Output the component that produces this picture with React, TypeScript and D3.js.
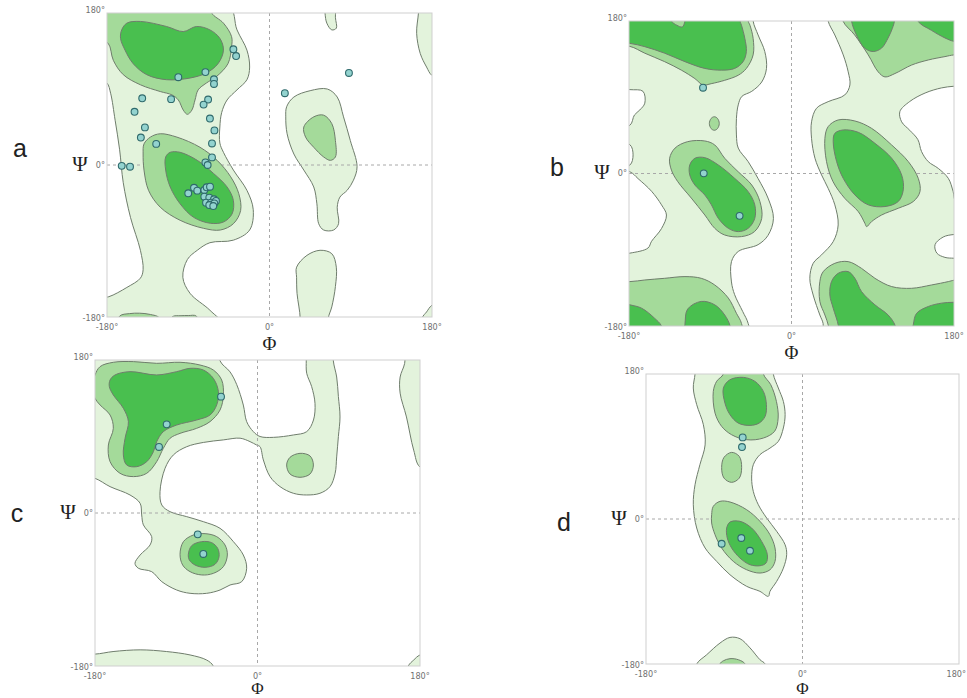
import React from 'react';
import * as d3 from 'd3';

type Pt = [number, number];
type Level = 'L' | 'W' | 'M' | 'D';

// ---------- axis ticks ----------
const tickValues: number[] = [-180, 0, 180];
const tickLabels: string[] = ['-180°', '0°', '180°'];

// ---------- Panel a ----------
const aLight1: Pt[] = [[-200,200],[-46,190],[-36,160],[-25,136],[-22,116],[-25,101],[-36,89],[-47,77],[-53,62],[-55,45],[-55,26],[-51,15],[-40,-6],[-25,-30],[-18,-53],[-22,-77],[-40,-89],[-66,-92],[-80,-101],[-91,-112],[-96,-133],[-88,-152],[-66,-172],[-52,-190],[-200,-200],[-190,-158],[-178,-156],[-158,-145],[-143,-134],[-140,-124],[-143,-101],[-154,-62],[-162,-21],[-166,18],[-171,53],[-176,85],[-180,97],[-190,102]];
const aMed1: Pt[] = [[-200,200],[-64,190],[-64,180],[-51,168],[-42,152],[-42,140],[-46,120],[-58.5,105],[-70,97],[-79,89],[-82.5,77],[-86,65],[-91,60],[-95.5,65],[-101,77],[-108,83],[-121,87],[-143,95],[-162,107],[-173,124],[-178.6,144],[-190,150]];
const aDark1: Pt[] = [[-163.7,160],[-158,168],[-143,170],[-114,164],[-95.5,158],[-81,164],[-66,160],[-55,150],[-51,136],[-57,120],[-70,109],[-88,103],[-114,101],[-136,107],[-151,120],[-160,136],[-165,150]];
const aMed2: Pt[] = [[-139,25],[-132,33],[-121,37],[-102.5,33],[-77,21],[-58,5.5],[-43,-14],[-34,-34],[-32,-54],[-40,-69.5],[-54.5,-77],[-73,-75],[-99,-65.5],[-121,-50],[-134,-30],[-139,-6],[-140,13]];
const aDark2: Pt[] = [[-115,9.5],[-110,15],[-99,15],[-80,5.5],[-62,-10],[-47,-26],[-40,-42],[-41.5,-58],[-51,-67.5],[-65.5,-69],[-84,-62],[-99,-46],[-110,-26],[-115,-6]];
const aMed3: Pt[] = [[-170,-200],[-166,-179],[-155,-176],[-144,-175.5],[-132,-177],[-122,-181],[-118,-200]];
const aMed4: Pt[] = [[-112,-200],[-108,-180],[-98,-178.5],[-90,-178.3],[-81,-179],[-76,-200]];
const aLight2: Pt[] = [[19,69],[27,80.5],[45,88],[64,90],[75,80.5],[82,57],[89.5,29],[97,-2],[93,-18],[86,-30],[78,-38],[75,-50],[76.5,-69.5],[71,-77],[60,-77],[54.5,-69.5],[52.5,-46],[49,-26],[38,-6],[27,13],[19.5,37],[18,57]];
const aMed5: Pt[] = [[38,45],[49,57],[60,59],[69,49],[73,29],[73,9.5],[67.5,5.5],[60,9.5],[49,21],[40,33]];
const aLight3: Pt[] = [[30,-121],[41.5,-107],[56,-101],[69,-105],[74,-121],[73,-144],[69,-168],[65,-182],[66,-200],[32,-200],[34,-182],[30.5,-152],[30,-133]];
const aLight4: Pt[] = [[61,200],[61.5,180],[63.5,168],[69,160],[74,162],[73,175],[73,200]];
const aLight5: Pt[] = [[166,200],[165,180],[163,156],[167,132],[174,116],[180,106],[200,98],[200,200]];
const aLight6: Pt[] = [[165,-200],[169,-181],[174,-174],[180,-166],[200,-158],[200,-200]];
const aResidues: Pt[] = [[-40,137],[-37,129],[-101,104],[-71,110],[-61.5,101.5],[-61.5,96],[88,109],[17,85],[-141,79],[-109,78],[-68,77.5],[-73,71.5],[-149.5,63],[-66,55],[-61,41],[-138,44.5],[-142.5,32.5],[-125.5,25],[-63.7,25.5],[-163.7,-1],[-154.5,-2],[-71,3],[-63.7,9],[-68.5,0],[-90,-33.5],[-83.6,-27],[-80,-30.4],[-72.2,-29.6],[-69.6,-26.4],[-65.9,-25.7],[-72.2,-37.5],[-66.7,-38.7],[-61.5,-40.6],[-70.3,-44.6],[-64.8,-44.6],[-59.3,-42.6],[-63.7,-46.6],[-61.1,-45.4],[-66.7,-47.4],[-62.3,-48.6]];

// ---------- Panel b ----------
const bLight1: Pt[] = [[-200,200],[-42,200],[-42.5,180],[-37,163.5],[-29.6,144],[-27.7,124],[-33,108],[-44,97],[-55,91],[-59,81],[-61,65],[-61,45.5],[-59,30],[-48,14],[-37,-6],[-26,-29],[-20,-53],[-26,-73],[-37,-84],[-59,-92],[-66.5,-104],[-66.5,-128],[-63,-143],[-54,-163],[-48,-177],[-46,-200],[-200,-200]];
const bWhite1: Pt[] = [[-200,101],[-179,99],[-164.5,97],[-162.5,83],[-168,75],[-174,69],[-179,57],[-200,55]];
const bWhite2: Pt[] = [[-200,37],[-179,34],[-175.5,22],[-179,10],[-200,7]];
const bWhite3: Pt[] = [[-200,4],[-179,2],[-170,-6],[-155,-21],[-144,-37],[-138.5,-49],[-144,-65],[-155,-80],[-159,-88],[-179,-94],[-200,-96]];
const bMed1: Pt[] = [[-200,150],[-179,150],[-162.5,142],[-140.5,132],[-122,122],[-107,112],[-98,104.5],[-89,106],[-74,110],[-59,116],[-50,124],[-42.5,140],[-42.5,159.5],[-46,175],[-48,180],[-48,200],[-200,200]];
const bDark1: Pt[] = [[-200,155],[-179,153.6],[-162.5,149.7],[-140.5,142],[-118,132],[-96,124],[-77.6,122],[-63,124],[-53.6,132],[-50,144],[-51.7,159.5],[-55.4,175],[-57,180],[-57,200],[-200,200]];
const bMedNotch: Pt[] = [[-136,200],[-133,180],[-127,175],[-121,173],[-118,180],[-117,200]];
const bMed2: Pt[] = [[-91,59],[-89,65],[-85.5,67],[-82,65],[-80,59],[-82,53],[-85.5,51],[-89,53]];
const bMed3: Pt[] = [[-135,18],[-129,30],[-115,37.6],[-96,38.4],[-85,33.7],[-74,18],[-59,2],[-44,-13.6],[-35,-33],[-33,-53],[-41,-68.6],[-55.4,-74.5],[-74,-72.6],[-85,-64.7],[-96,-49],[-111,-29],[-126,-9.6],[-133,4]];
const bDark3: Pt[] = [[-112.7,10],[-107,18],[-96,18.7],[-81,10],[-63,-5.7],[-48,-21.4],[-40.7,-37],[-40.7,-53],[-48,-64.7],[-59,-68.6],[-70,-64.7],[-81,-53],[-88.7,-37],[-96,-25.4],[-107,-13.6],[-112.7,-1.7]];
const bMed4: Pt[] = [[-200,-127],[-179,-127.6],[-162.5,-125.7],[-140.5,-123.7],[-118,-121.7],[-100,-123.7],[-85,-131.6],[-70,-147],[-61,-165],[-55.4,-177],[-54,-200],[-200,-200]];
const bDark4: Pt[] = [[-200,-150],[-179,-155],[-166,-159],[-151.5,-171],[-144,-180],[-140,-200],[-200,-200]];
const bDark5: Pt[] = [[-119,-200],[-118,-178],[-115,-160],[-100,-151],[-85,-155],[-74,-167],[-68,-180],[-66,-200]];
const bLight2: Pt[] = [[40,200],[40.6,180],[48,163.5],[57.3,140],[62.8,120],[64.7,104.5],[59,92.7],[40.6,84.8],[27.7,77],[22.2,61],[22.2,41.5],[26,18],[33.3,-1.7],[40.6,-17.5],[48,-37],[51.7,-60.7],[46.2,-80.4],[33.3,-96],[24,-106],[20.3,-123.7],[24,-143.4],[31.4,-167],[35,-177],[36,-200],[200,-200],[200,200]];
const bWhite4: Pt[] = [[200,104],[180,103],[166,101],[148,95],[131,85],[120,73],[122,61],[131,51],[140,40],[144,26],[151.5,14],[162.6,6],[173.7,-5.7],[179,-21],[182,-33],[200,-36]];
const bWhite5: Pt[] = [[200,-72],[180,-72],[168,-75],[159,-84],[161,-94],[170,-99],[180,-100],[200,-100]];
const bMed5: Pt[] = [[55,200],[57,180],[70,163.5],[85,140],[96,120],[103.5,114],[114.6,118],[133,128],[151.5,134],[170,138],[180,140],[200,141],[200,200]];
const bDark6: Pt[] = [[66,200],[66.5,180],[72,163.5],[81,148],[90.5,144],[99.8,148],[107,160],[111.6,171],[114,180],[114,200]];
const bDark7: Pt[] = [[138,200],[140,180],[155,169],[170,160],[180,156],[200,155],[200,200]];
const bMed6: Pt[] = [[37,41.5],[40.6,55.3],[51.7,63.2],[70.2,62],[88.7,53.3],[110.9,33.7],[129.4,14],[140.4,-5.7],[142.3,-21.4],[135,-33],[118.3,-41],[99.8,-49],[88.7,-56.8],[83.2,-62.7],[81.3,-58.8],[74,-45],[59,-29.3],[46,-9.6],[38.8,14]];
const bDark8: Pt[] = [[46.2,37.6],[48,47.4],[57.3,51.4],[74,48.6],[92.4,35.6],[111,18],[122,-1.7],[123.8,-19.4],[118.3,-33],[103.5,-39],[85,-37],[70.2,-25.3],[57.3,-5.7],[50,14]];
const bMed7: Pt[] = [[200,-125],[180,-126],[173.7,-127.6],[155,-131.6],[133,-135.5],[111,-133.5],[92.4,-123.7],[77.6,-112],[62.8,-104],[48,-106],[35,-116],[31.4,-127.6],[31.4,-151],[37,-167],[41,-180],[43,-200],[200,-200]];
const bDark9: Pt[] = [[44.3,-127.6],[51.7,-117.8],[62.8,-115.8],[70.2,-123.7],[77.6,-139.4],[92.4,-155],[107,-167],[115,-180],[117,-200],[53,-200],[52,-180],[46.2,-159],[42.5,-143.4]];
const bDark10: Pt[] = [[133,-200],[135,-178],[138.6,-165],[151.5,-157],[166.3,-153],[180,-152],[200,-152],[200,-200]];
const bResidues: Pt[] = [[-98,101.3],[-97.2,0.2],[-57.5,-50]];

// ---------- Panel c ----------
const cLight1: Pt[] = [[-200,200],[-42,200],[-41.5,179],[-30.4,166],[-23,151],[-15.7,127],[-12,107.5],[-4.6,95.7],[2.8,90],[17.6,89],[39.7,91.8],[54.5,95.7],[62,109.4],[63.7,129],[60,148.7],[54.5,164.4],[54,180],[54,200],[84,200],[84,179],[87.7,160],[89.6,137],[91.4,113],[89.6,90],[87.7,66],[86,46.7],[80.3,31],[69.2,23.2],[54.5,21.2],[39.7,23.2],[25,31],[13.9,42.8],[6.5,62.4],[2.8,78],[-1,80],[-8.3,84],[-19.3,88],[-37.8,86],[-60,83],[-78.4,78],[-93.2,68.3],[-102.4,52.6],[-108,25],[-106,9.4],[-97,1.6],[-78.4,-4.3],[-60,-10.2],[-41.5,-18],[-26.7,-33.7],[-15.7,-49.4],[-12,-65],[-17.5,-80.8],[-30.4,-84.7],[-41.5,-90.6],[-56.3,-94.5],[-74.7,-94.5],[-89.5,-90.6],[-106,-80.8],[-117.2,-69],[-132,-65],[-135.7,-59.2],[-130,-49.4],[-119,-37.6],[-117.2,-27.8],[-126.4,-14],[-128.3,-2.3],[-130,11.4],[-141.2,21.2],[-163.3,31],[-180,40.8],[-200,45]];
const cMed1: Pt[] = [[-184,148.6],[-180,162.4],[-174.4,172.2],[-159.7,177.3],[-137.5,178.1],[-111.7,176.1],[-85.8,177.3],[-63.7,174.1],[-48.9,168.2],[-39.7,156.5],[-37.8,138.8],[-41.5,121.2],[-52.6,107.5],[-67.4,99.6],[-85.8,93.7],[-96.9,87.9],[-104.3,76.1],[-111.7,60.4],[-122.7,46.7],[-137.5,42.8],[-152.3,46.7],[-163.3,60.4],[-165.2,80],[-159.7,99.6],[-163.3,115.3],[-174.4,127.1],[-180,134.9]];
const cDark1: Pt[] = [[-163.3,156.5],[-157.8,162.4],[-141.2,166.3],[-111.7,162.4],[-89.5,166.3],[-74.7,170.2],[-60,168.2],[-48.9,158.4],[-43.3,142.8],[-45.2,127.1],[-52.6,115.3],[-67.4,109.4],[-89.5,103.5],[-104.3,95.7],[-111.7,83.9],[-115.3,72.2],[-122.7,60.4],[-133.8,54.5],[-144.9,56.5],[-148.6,68.3],[-146.7,87.9],[-143,107.5],[-148.6,123.2],[-159.7,138.8],[-164.1,148.6]];
const cMed2: Pt[] = [[-85.8,-48.6],[-82.1,-33.7],[-71,-25.9],[-58.1,-24.3],[-45.2,-27.8],[-36,-37.6],[-33.4,-49.4],[-37.8,-63.1],[-48.9,-71],[-61.8,-72.9],[-74.7,-69],[-82.9,-61.2]];
const cDark2: Pt[] = [[-76.6,-48.6],[-72.9,-38.4],[-61.8,-33.7],[-50.7,-34.9],[-44.1,-41.6],[-42.6,-51.4],[-47.1,-60.4],[-58.1,-63.9],[-69.2,-61.2],[-75.5,-55.3]];
const cMed3: Pt[] = [[32.3,56.5],[36,65.5],[47.1,70.2],[58.2,67.1],[61.9,56.5],[58.2,45.9],[47.1,42],[36,45.9]];
const cLight2: Pt[] = [[200,50],[180,54],[173,74],[165,113],[158,141],[158,160],[163,176],[165,200],[200,200]];
const cLight3: Pt[] = [[-200,-165],[-180,-166],[-160,-163],[-130,-161],[-100.6,-163],[-74.7,-167],[-56.3,-173],[-49,-180],[-46,-200],[-200,-200]];
const cLight4: Pt[] = [[163,-200],[167,-180],[173,-173],[180,-167],[200,-163],[200,-200]];
const cResidues: Pt[] = [[-40.4,136.9],[-100.6,104.3],[-109.1,77.7],[-66.2,-25.1],[-60,-48.2]];

// ---------- Panel d ----------
const dLight1: Pt[] = [[-123,200],[-123.6,180],[-125.6,162.6],[-121.7,142],[-114,117],[-112,92],[-118,67.4],[-123.6,42.6],[-125.6,17.7],[-121.7,-11.2],[-112,-36],[-98.7,-52.6],[-83.4,-69.2],[-64.2,-83.6],[-49,-89.8],[-39.3,-96],[-37.4,-89.8],[-29.7,-77.4],[-22,-61],[-18.2,-44.3],[-20,-32],[-29.7,-15.3],[-41.2,1.2],[-50.8,17.7],[-56.6,34.3],[-58.5,50.8],[-56.6,67.4],[-49,79.8],[-37.4,88],[-27.8,96.4],[-22,113],[-20,129.5],[-22,146],[-27.8,162.6],[-33.6,180],[-34,200]];
const dMed1: Pt[] = [[-91,200],[-91,180],[-98.7,171],[-102.6,158.4],[-100.6,131.5],[-93,115],[-81.5,104.6],[-64.2,98.4],[-45,100.5],[-32,109],[-28,125.3],[-30,146],[-36.5,166.7],[-45,180],[-45,200]];
const dDark1: Pt[] = [[-91,162.6],[-83.4,172.9],[-68.1,175.8],[-54.6,170.8],[-45,158.4],[-41.5,141.9],[-43,127.4],[-50,119],[-60.4,116.2],[-73.8,119],[-83.4,129.5],[-89.2,143.9]];
const dMed2: Pt[] = [[-93,64],[-90.3,76.5],[-81.5,82.7],[-72.7,77.7],[-70,64],[-72.7,50.8],[-81.5,45.5],[-90.3,50.8]];
const dMed3: Pt[] = [[-104.5,5.3],[-102.6,15.7],[-94.9,21.9],[-83.4,21.1],[-64.2,11.5],[-48.9,-2.9],[-37.4,-19.5],[-31.6,-36],[-31.6,-52.6],[-37.4,-63],[-48.9,-67.1],[-64.2,-63],[-79.6,-52.6],[-93,-36],[-100.6,-19.5],[-104.5,-5]];
const dDark3: Pt[] = [[-87.2,-11.2],[-83.4,-3.8],[-71.9,-2.9],[-58.5,-11.2],[-47,-27.8],[-40.4,-44.3],[-42,-54.7],[-48.9,-58],[-60.4,-56.7],[-71.9,-48.5],[-81.5,-36],[-86.5,-23.6]];
const dLight2: Pt[] = [[-125,-200],[-121.7,-180],[-110.2,-168.5],[-94.9,-154],[-83.4,-147],[-71.9,-148.6],[-60.4,-160],[-48.9,-174.7],[-43,-180],[-40,-200]];
const dMed4: Pt[] = [[-97,-200],[-95,-180],[-91,-176],[-83.4,-173.4],[-73.8,-174.7],[-66,-180],[-64,-200]];
const dResidues: Pt[] = [[-68.8,101.3],[-69.6,89.3],[-93,-30.7],[-70.4,-23.6],[-60.4,-39.4]];

const FILL: Record<Level, string> = { L: '#e3f3dc', W: '#ffffff', M: '#a4da9a', D: '#49bf4f' };
const STROKE = '#6f7d6c';

interface Region { level: Level; pts: Pt[] }
interface PanelCfg {
  id: string; letter: string; lx: number; ly: number;
  x0: number; x1: number; y0: number; y1: number;
  regions: Region[]; residues: Pt[];
}

const R = (level: Level, pts: Pt[]): Region => ({ level, pts });

const panels: PanelCfg[] = [
  { id: 'a', letter: 'a', lx: 20, ly: 157, x0: 107, x1: 432, y0: 13, y1: 317,
    regions: [R('L', aLight1), R('L', aLight2), R('L', aLight3), R('L', aLight4), R('L', aLight5), R('L', aLight6),
      R('M', aMed1), R('D', aDark1), R('M', aMed2), R('D', aDark2), R('M', aMed3), R('M', aMed4), R('M', aMed5)],
    residues: aResidues },
  { id: 'b', letter: 'b', lx: 557, ly: 176, x0: 629, x1: 954, y0: 21, y1: 326,
    regions: [R('L', bLight1), R('L', bLight2), R('W', bWhite1), R('W', bWhite2), R('W', bWhite3), R('W', bWhite4), R('W', bWhite5),
      R('M', bMed1), R('D', bDark1), R('M', bMedNotch), R('M', bMed2), R('M', bMed3), R('D', bDark3), R('M', bMed4), R('D', bDark4), R('D', bDark5),
      R('M', bMed5), R('D', bDark6), R('D', bDark7), R('M', bMed6), R('D', bDark8), R('M', bMed7), R('D', bDark9), R('D', bDark10)],
    residues: bResidues },
  { id: 'c', letter: 'c', lx: 17, ly: 522, x0: 95, x1: 420, y0: 360, y1: 666,
    regions: [R('L', cLight1), R('L', cLight2), R('L', cLight3), R('L', cLight4),
      R('M', cMed1), R('D', cDark1), R('M', cMed2), R('D', cDark2), R('M', cMed3)],
    residues: cResidues },
  { id: 'd', letter: 'd', lx: 564, ly: 531, x0: 646, x1: 959, y0: 374, y1: 664,
    regions: [R('L', dLight1), R('L', dLight2),
      R('M', dMed1), R('D', dDark1), R('M', dMed2), R('M', dMed3), R('D', dDark3), R('M', dMed4)],
    residues: dResidues },
];

const TICK_FONT = "'Liberation Sans Narrow', 'DejaVu Sans Condensed', sans-serif";
const SERIF = "'Liberation Serif', 'DejaVu Serif', serif";

function Panel({ cfg }: { cfg: PanelCfg }) {
  const x = d3.scaleLinear().domain([-180, 180]).range([cfg.x0, cfg.x1]);
  const y = d3.scaleLinear().domain([-180, 180]).range([cfg.y1, cfg.y0]);
  const line = d3.line<Pt>().x(d => x(d[0])).y(d => y(d[1])).curve(d3.curveCatmullRomClosed.alpha(0.5));
  const clipId = `clip-${cfg.id}`;
  const under = cfg.regions.filter(r => r.level === 'L' || r.level === 'W');
  const over = cfg.regions.filter(r => r.level === 'M' || r.level === 'D');
  const midX = x(0), midY = y(0);
  const phiY = Math.min(cfg.y1 + 29, 690);
  const phiSize = cfg.y1 + 29 > 690 ? 17 : 19;
  return (
    <g>
      <defs>
        <clipPath id={clipId}>
          <rect x={cfg.x0} y={cfg.y0} width={cfg.x1 - cfg.x0} height={cfg.y1 - cfg.y0} />
        </clipPath>
      </defs>
      <g clipPath={`url(#${clipId})`}>
        {under.map((r, i) => (
          <path key={'u' + i} d={line(r.pts) || ''} fill={FILL[r.level]} stroke={STROKE} strokeWidth={1} />
        ))}
        <line x1={midX} x2={midX} y1={cfg.y0} y2={cfg.y1} stroke="#a8a8a8" strokeWidth={1} strokeDasharray="3,3" />
        <line x1={cfg.x0} x2={cfg.x1} y1={midY} y2={midY} stroke="#a8a8a8" strokeWidth={1} strokeDasharray="3,3" />
        {over.map((r, i) => (
          <path key={'o' + i} d={line(r.pts) || ''} fill={FILL[r.level]} stroke={STROKE} strokeWidth={1} />
        ))}
        {cfg.residues.map((p, i) => (
          <circle key={'p' + i} cx={x(p[0])} cy={y(p[1])} r={3.4} fill="#93d3cf" stroke="#2f6a6c" strokeWidth={1.1} />
        ))}
      </g>
      <rect x={cfg.x0} y={cfg.y0} width={cfg.x1 - cfg.x0} height={cfg.y1 - cfg.y0} fill="none" stroke="#cfcfcf" strokeWidth={1} />
      {tickValues.map((v, i) => {
        const tx = x(v);
        const clamp = tx + 10 > 967;
        return (
          <text key={'xt' + i} x={clamp ? 966 : tx} y={cfg.y1 + 10} fontSize={9} fill="#707070" fontFamily={TICK_FONT}
            textAnchor={clamp ? 'end' : 'middle'} dominantBaseline="middle">{tickLabels[i]}</text>
        );
      })}
      {tickValues.map((v, i) => (
        <text key={'yt' + i} x={cfg.x0 - 2} y={v === 180 ? y(v) - 3 : v === -180 ? y(v) + 1 : y(v)} fontSize={9} fill="#707070" fontFamily={TICK_FONT} textAnchor="end" dominantBaseline="middle">{tickLabels[i]}</text>
      ))}
      <text x={cfg.x0 - 27} y={midY + 1} fontSize={21} fill="#222" fontFamily={SERIF} textAnchor="middle" dominantBaseline="middle">Ψ</text>
      <text x={midX} y={phiY} fontSize={phiSize} fill="#222" fontFamily={SERIF} textAnchor="middle" dominantBaseline="middle">Φ</text>
      <text x={cfg.lx} y={cfg.ly} fontSize={25} fill="#222" fontFamily="'Liberation Sans', Arial, sans-serif" textAnchor="middle">{cfg.letter}</text>
    </g>
  );
}

export default function App() {
  return (
    <svg width={967} height={698} style={{ position: 'absolute', left: 0, top: 0, background: '#fff' }}>
      <rect x={0} y={0} width={967} height={698} fill="#fff" />
      {panels.map(p => <Panel key={p.id} cfg={p} />)}
    </svg>
  );
}
